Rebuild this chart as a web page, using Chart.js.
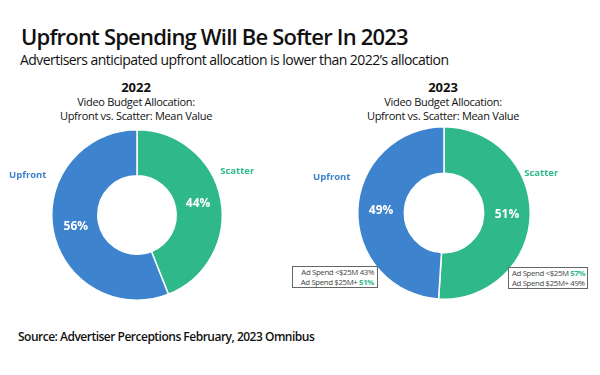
<!DOCTYPE html>
<html><head><meta charset="utf-8">
<script src="https://cdn.jsdelivr.net/npm/chart.js@4/dist/chart.umd.min.js"></script>
<style>
html,body{margin:0;padding:0;background:#fff;}
body{width:600px;height:375px;position:relative;overflow:hidden;font-family:"Open Sans",sans-serif;color:#111;}
.abs{position:absolute;white-space:nowrap;}
#title{left:21px;top:21px;font-size:22px;font-weight:600;letter-spacing:-0.8px;}
#subtitle{left:20px;top:50px;font-size:14px;letter-spacing:-0.55px;}
.head{text-align:center;width:260px;}
.yr{font-size:13px;font-weight:700;line-height:15px;}
.sub{font-size:11px;line-height:14px;letter-spacing:-0.3px;color:#111;}
#source{left:18px;top:328px;font-size:12px;font-weight:600;letter-spacing:-0.5px;}
.box{position:absolute;box-sizing:border-box;border:1px solid #666;font-size:7.8px;line-height:9.5px;color:#444;padding:1px 3px 0 3px;white-space:nowrap;letter-spacing:-0.35px;background:#fff;}
.box b{color:#2fb98a;font-weight:700;}
canvas{position:absolute;}
</style></head>
<body>
<div id="title" class="abs">Upfront Spending Will Be Softer In 2023</div>
<div id="subtitle" class="abs">Advertisers anticipated upfront allocation is lower than 2022’s allocation</div>
<div id="h1" class="abs head" style="left:6px;top:80px;"></div>
<div id="h2" class="abs head" style="left:313px;top:80px;"></div>
<div id="c1wrap"><canvas id="c1"></canvas></div>
<div id="c2wrap"><canvas id="c2"></canvas></div>
<div id="boxL" class="box" style="left:292px;top:266px;width:86px;height:22px;text-align:right;"></div>
<div id="boxR" class="box" style="left:508px;top:267px;width:80px;height:22px;text-align:left;"></div>
<div id="source" class="abs">Source: Advertiser Perceptions February, 2023 Omnibus</div>
<script>
const categories = ['Scatter', 'Upfront'];
const years = ['2022', '2023'];
const values2022 = [44, 56];
const values2023 = [51, 49];
const chartSubtitle = ['Video Budget Allocation:', 'Upfront vs. Scatter: Mean Value'];
const adSpendLabels = ['Ad Spend <$25M', 'Ad Spend $25M+'];
const upfrontBySpend = [43, 51];
const scatterBySpend = [57, 49];

const colors = ['#2fb98a', '#3d83cd'];

document.getElementById('h1').innerHTML = '<div class="yr">' + years[0] + '</div><div class="sub">' + chartSubtitle.join('<br>') + '</div>';
document.getElementById('h2').innerHTML = '<div class="yr">' + years[1] + '</div><div class="sub">' + chartSubtitle.join('<br>') + '</div>';

function boxHtml(vals) {
  const mx = Math.max(...vals);
  return vals.map((v, i) => adSpendLabels[i] + ' ' + (v === mx ? '<b>' + v + '%</b>' : v + '%')).join('<br>');
}
document.getElementById('boxL').innerHTML = boxHtml(upfrontBySpend);
document.getElementById('boxR').innerHTML = boxHtml(scatterBySpend);

const labelPlugin = {
  id: 'labelPlugin',
  afterDatasetsDraw(chart, args, opts) {
    const ctx = chart.ctx;
    const meta = chart.getDatasetMeta(0);
    const ds = chart.data.datasets[0];
    ctx.save();
    ctx.textAlign = 'center';
    ctx.textBaseline = 'middle';
    meta.data.forEach((arc, i) => {
      const p = arc.tooltipPosition();
      ctx.fillStyle = '#ffffff';
      ctx.font = '700 12px "Open Sans"';
      ctx.fillText(ds.data[i] + '%', p.x, p.y);
    });
    const c = meta.data[0];
    const cx = c.x, cy = c.y, r = c.outerRadius;
    ctx.font = '700 9.5px "Open Sans"';
    ctx.fillStyle = colors[0];
    ctx.fillText(chart.data.labels[0], cx + r + opts.gapR, cy + opts.dyR);
    ctx.fillStyle = colors[1];
    ctx.fillText(chart.data.labels[1], cx - r - opts.gapL, cy + opts.dyL);
    ctx.restore();
  }
};

function makeChart(id, left, top, w, h, values, lopts) {
  const cv = document.getElementById(id);
  cv.style.left = left + 'px';
  cv.style.top = top + 'px';
  cv.width = w; cv.height = h;
  cv.style.width = w + 'px'; cv.style.height = h + 'px';
  return new Chart(cv, {
    type: 'doughnut',
    data: {
      labels: categories,
      datasets: [{
        data: values,
        backgroundColor: colors,
        borderColor: '#ffffff',
        borderWidth: 1.5,
        hoverOffset: 0
      }]
    },
    options: {
      responsive: false,
      animation: false,
      cutout: '46%',
      rotation: 0,
      layout: { padding: 0 },
      plugins: {
        legend: { display: false },
        tooltip: { enabled: false },
        labelPlugin: lopts
      }
    },
    plugins: [labelPlugin]
  });
}

makeChart('c1', 0, 129, 274, 172, values2022, { gapR: 15, dyR: -44, gapL: 24, dyL: -40 });
makeChart('c2', 294, 126, 300, 174, values2023, { gapR: 11, dyR: -40, gapL: 26, dyL: -36 });
</script>
</body></html>
